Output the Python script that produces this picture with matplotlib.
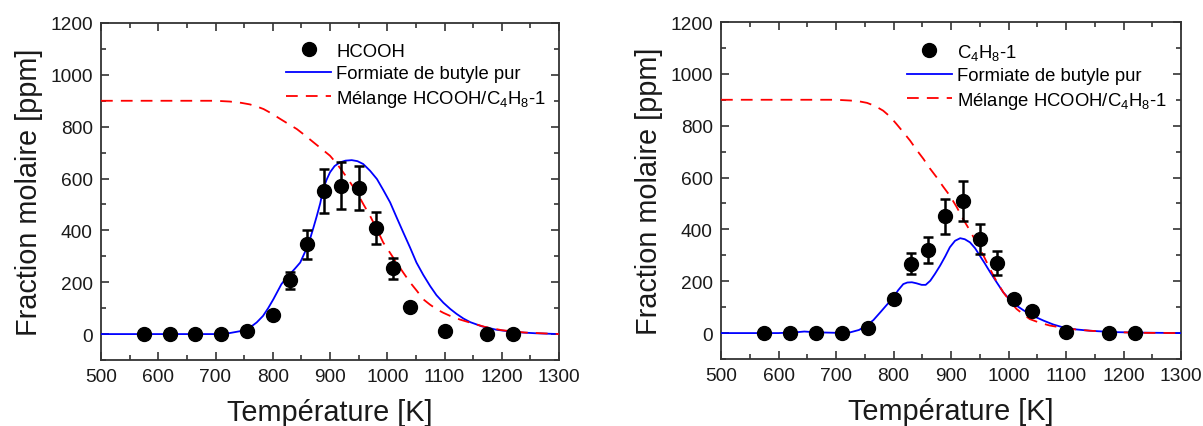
import matplotlib
matplotlib.use("Agg")
import matplotlib.pyplot as plt
from matplotlib.ticker import MultipleLocator
from matplotlib.lines import Line2D

plt.rcParams['font.family'] = ['Liberation Sans', 'DejaVu Sans']
plt.rcParams['mathtext.fontset'] = 'custom'
plt.rcParams['mathtext.rm'] = 'Liberation Sans'

# ---------------- data ----------------
T_exp = [575, 620, 665, 710, 755, 800, 830, 860, 890, 920, 950, 980, 1010, 1040, 1100, 1175, 1220]

hcooh_exp = [0, 0, 0, 0, 10, 72, 207, 346, 552, 573, 564, 408, 254, 106, 10, 0, 0]
hcooh_err = [0, 0, 0, 0, 1, 7, 32, 55, 84, 89, 85, 62, 40, 10, 1, 0, 0]

c4h8_exp = [0, 0, 0, 0, 19, 131, 268, 321, 450, 510, 364, 270, 131, 86, 5, 0, 0]
c4h8_err = [0, 0, 0, 0, 2, 13, 42, 50, 66, 77, 58, 45, 13, 9, 1, 0, 0]

# model curves
T_blue_L = [500, 600, 700, 725, 745, 760, 772, 783, 792, 801, 808, 815, 822, 830, 839, 848,
            856, 865, 871, 877, 883, 888, 894, 900, 908, 917, 927, 938, 948, 958,
            970, 982, 993, 1005, 1016, 1028, 1040, 1051, 1063, 1075, 1086, 1098,
            1110, 1121, 1133, 1145, 1165, 1190, 1220, 1260, 1300]
blue_L = [0, 0, 0, 4, 12, 25, 45, 70, 100, 134, 163, 192, 212, 231, 253, 276,
          315, 366, 410, 456, 505, 559, 595, 624, 648, 662, 669, 671, 667, 656,
          630, 598, 556, 508, 452, 392, 333, 276, 228, 185, 150, 121,
          97, 78, 60, 46, 30, 17, 8, 3, 0]

T_red_L = [500, 600, 700, 725, 745, 760, 772, 784, 798, 813, 827, 842, 856, 871, 885,
           900, 912, 923, 935, 947, 958, 970, 982, 993, 1005, 1016, 1028, 1040,
           1052, 1063, 1075, 1087, 1098, 1110, 1127, 1145, 1170, 1200, 1240, 1300]
red_L = [900, 900, 900, 897, 892, 886, 878, 868, 851, 830, 811, 791, 767, 740, 715,
         688, 657, 624, 586, 546, 502, 456, 404, 353, 313, 276, 237, 199,
         166, 134, 113, 95, 82, 70, 56, 44, 28, 15, 6, 0]

T_blue_R = [500, 600, 630, 645, 665, 700, 725, 740, 753, 765, 777, 788, 800, 808, 817,
            824, 832, 840, 849, 856, 864, 872, 881, 890, 898, 907, 916, 924, 933,
            942, 950, 959, 968, 980, 991, 1002, 1014, 1026, 1037, 1049, 1061, 1078,
            1095, 1118, 1142, 1180, 1220, 1300]
blue_R = [0, 0, 3, 6, 3, 1, 3, 12, 29, 50, 80, 108, 138, 165, 189,
          195, 196, 192, 186, 186, 202, 228, 260, 296, 331, 356, 366, 362, 350,
          327, 299, 268, 235, 194, 157, 130, 106, 88, 74, 60, 48, 33,
          22, 14, 9, 4, 2, 0]

T_red_R = [500, 600, 700, 725, 740, 754, 768, 782, 794, 805, 817, 829, 840, 852, 863,
           875, 886, 898, 910, 921, 933, 944, 956, 968, 979, 991, 1003, 1014,
           1026, 1037, 1054, 1072, 1090, 1107, 1142, 1180, 1230, 1300]
red_R = [900, 900, 900, 897, 894, 888, 876, 858, 835, 807, 775, 742, 707, 672, 636,
         601, 566, 530, 486, 440, 395, 350, 301, 247, 200, 157, 122, 93,
         72, 54, 40, 29, 22, 16, 9, 4, 1, 0]

species = ['HCOOH', r'C$_\mathregular{4}$H$_\mathregular{8}$-1']
lbl_blue = 'Formiate de butyle pur'
lbl_red = r'Mélange HCOOH/C$_\mathregular{4}$H$_\mathregular{8}$-1'
xlabel = 'Température [K]'
ylabel = 'Fraction molaire [ppm]'

# ---------------- figure ----------------
W, H = 1203, 427
fig = plt.figure(figsize=(W / 100, H / 100), dpi=100)

boxes = [(101, 24, 559, 361), (721, 23, 1181, 360)]
panels = [
    (hcooh_exp, hcooh_err, T_blue_L, blue_L, T_red_L, red_L, species[0]),
    (c4h8_exp, c4h8_err, T_blue_R, blue_R, T_red_R, red_R, species[1]),
]

for (x0, y0, x1, y1), (ye, err, tb, yb, tr, yr, sp) in zip(boxes, panels):
    ax = fig.add_axes([x0 / W, 1 - y1 / H, (x1 - x0) / W, (y1 - y0) / H])
    ax.errorbar(T_exp, ye, yerr=err, fmt='o', color='black', ms=10,
                elinewidth=1.8, capsize=3.5, capthick=1.8, zorder=4)
    lb, = ax.plot(tb, yb, '-', color='#0000ff', lw=1.3, label=lbl_blue, zorder=3)
    lr, = ax.plot(tr, yr, '--', color='#ff0000', lw=1.3, dashes=(6.5, 4.5),
                  label=lbl_red, zorder=3)
    hm = Line2D([], [], ls='none', marker='o', color='black', ms=10, label=sp)

    ax.set_xlim(500, 1300)
    ax.set_ylim(-100, 1200)
    ax.xaxis.set_major_locator(MultipleLocator(100))
    ax.xaxis.set_minor_locator(MultipleLocator(50))
    ax.yaxis.set_major_locator(MultipleLocator(200))
    ax.yaxis.set_minor_locator(MultipleLocator(100))
    ax.tick_params(which='both', direction='in', top=True, right=True,
                   colors='#333333', labelcolor='#1a1a1a', width=1.2)
    ax.tick_params(which='major', length=6, labelsize=13.8, pad=6)
    ax.tick_params(which='minor', length=3.5)
    for s in ax.spines.values():
        s.set_color('#333333')
        s.set_linewidth(1.3)

    ax.set_xlabel(xlabel, fontsize=20.8, color='#1a1a1a', labelpad=9)
    ax.set_ylabel(ylabel, fontsize=20.8, color='#1a1a1a', labelpad=5)

    ax.legend(handles=[hm, lb, lr], loc='upper left',
              bbox_to_anchor=(0.405, 0.942), frameon=False, fontsize=13.3,
              handlelength=2.4, handletextpad=0.3, labelspacing=0.3,
              borderpad=0, borderaxespad=0)

fig.savefig('out.png', dpi=100)
